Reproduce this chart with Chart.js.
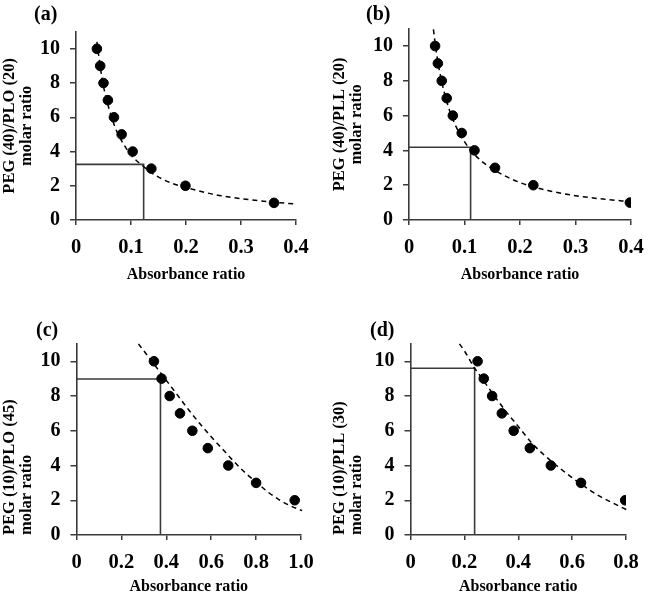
<!DOCTYPE html>
<html><head><meta charset="utf-8">
<script src="https://cdn.jsdelivr.net/npm/chart.js@4.4.1/dist/chart.umd.min.js"></script>
<style>
html,body{margin:0;padding:0;background:#fff;}
#wrap{position:relative;width:657px;height:601px;overflow:hidden;}
canvas{position:absolute;}
</style></head><body><div id="wrap">
<canvas id="ca" width="330" height="300" style="left:0;top:0"></canvas>
<canvas id="cb" width="327" height="300" style="left:330px;top:0"></canvas>
<canvas id="cc" width="330" height="301" style="left:0;top:300px"></canvas>
<canvas id="cd" width="327" height="301" style="left:330px;top:300px"></canvas>
</div>
<script>
// ---- data ----
const molarRatio = [10, 9, 8, 7, 6, 5, 4, 3, 2, 1];
const aAbs = [0.038, 0.044, 0.050, 0.058, 0.069, 0.083, 0.103, 0.137, 0.199, 0.360];
const bAbs = [0.047, 0.052, 0.059, 0.068, 0.079, 0.095, 0.118, 0.155, 0.224, 0.398];
const cdRatio = [10, 9, 8, 7, 6, 5, 4, 3, 2];
const cAbs = [0.345, 0.379, 0.415, 0.461, 0.516, 0.585, 0.676, 0.800, 0.972];
const dAbs = [0.249, 0.272, 0.303, 0.339, 0.383, 0.443, 0.521, 0.633, 0.797];

// fitted (dashed) curves
const aFitX = [0.038, 0.045, 0.05, 0.06, 0.07, 0.08, 0.1, 0.12, 0.14, 0.17, 0.2, 0.25, 0.3, 0.35, 0.4];
const aFitY = [10.4, 8.75, 7.8, 6.5, 5.5, 4.8, 3.8, 3.2, 2.7, 2.2, 1.9, 1.5, 1.25, 1.07, 0.93];
const bFitX = [0.044, 0.05, 0.06, 0.07, 0.08, 0.1, 0.12, 0.15, 0.2, 0.25, 0.3, 0.35, 0.4];
const bFitY = [10.95, 9.5, 7.8, 6.6, 5.7, 4.5, 3.7, 2.95, 2.15, 1.7, 1.4, 1.2, 1.05];
const cFitX = [0.276, 0.3, 0.35, 0.4, 0.45, 0.5, 0.55, 0.6, 0.65, 0.7, 0.75, 0.8, 0.85, 0.9, 0.95, 1.005];
const cFitY = [11.0, 10.6, 9.75, 8.9, 8.05, 7.2, 6.4, 5.65, 4.95, 4.25, 3.6, 3.05, 2.5, 2.05, 1.7, 1.4];
const dFitX = [0.182, 0.2, 0.238, 0.25, 0.3, 0.35, 0.4, 0.45, 0.5, 0.55, 0.6, 0.65, 0.7, 0.75, 0.81];
const dFitY = [11.0, 10.6, 9.6, 9.35, 8.25, 7.2, 6.25, 5.3, 4.55, 3.9, 3.3, 2.75, 2.25, 1.85, 1.4];

// read-off guide lines (absorbance, molar ratio)
const aGuide = [0.123, 3.25];
const bGuide = [0.111, 4.18];
const cGuide = [0.374, 8.98];
const dGuide = [0.238, 9.6];

const panelLabels = ['(a)', '(b)', '(c)', '(d)'];
const yTitles = [
  ['PEG (40)/PLO (20)', 'molar ratio'],
  ['PEG (40)/PLL (20)', 'molar ratio'],
  ['PEG (10)/PLO (45)', 'molar ratio'],
  ['PEG (10)/PLL (30)', 'molar ratio']
];
const xTitle = 'Absorbance ratio';
const xMaxes = [0.4, 0.4, 1.0, 0.8];
const xSteps = [0.1, 0.1, 0.2, 0.2];
const yMax = 11;
const yTicks = [0, 2, 4, 6, 8, 10];

// ---- drawing ----
Chart.defaults.font.family = '"Liberation Serif", "Times New Roman", serif';
Chart.defaults.color = '#000';

const panelLabel = {
  id: 'panelLabel',
  afterDraw(chart, args, o) {
    const c = chart.ctx;
    c.save();
    c.font = 'bold 20px "Liberation Serif", serif';
    c.fillStyle = '#000';
    c.textBaseline = 'middle';
    c.textAlign = 'left';
    c.fillText(o.text, o.x, o.y);
    c.restore();
  }
};

const axisColor = '#3a3a3a';

function pts(xs, ys) { return xs.map((x, i) => ({x: x, y: ys[i]})); }

function makePanel(id, idx, xs, ys, fx, fy, guide, lay) {
  const W = lay.W, H = lay.H;
  new Chart(document.getElementById(id), {
    type: 'scatter',
    data: {
      datasets: [
        {
          type: 'line', data: pts(fx, fy), borderColor: '#000', borderWidth: 1.5,
          borderDash: [5, 4], pointRadius: 0, cubicInterpolationMode: 'monotone', clip: false, order: 2
        },
        {
          type: 'line', data: [{x: 0, y: guide[1]}, {x: guide[0], y: guide[1]}, {x: guide[0], y: 0}],
          borderColor: axisColor, borderWidth: 1.6, pointRadius: 0, tension: 0, order: 3
        },
        {
          type: 'scatter', data: pts(xs, ys), backgroundColor: '#000', borderColor: '#000',
          pointRadius: 4.8, pointHoverRadius: 4.8, order: 1
        }
      ]
    },
    options: {
      responsive: false, animation: false, devicePixelRatio: 1,
      layout: {padding: {left: 0, top: lay.top, right: W - lay.right, bottom: 0}},
      plugins: {
        legend: {display: false}, tooltip: {enabled: false},
        panelLabel: {text: panelLabels[idx], x: lay.lx, y: lay.ly}
      },
      scales: {
        x: {
          type: 'linear', min: 0, max: xMaxes[idx],
          ticks: {
            stepSize: xSteps[idx], padding: lay.xtp, color: '#000',
            font: {size: 20.5, weight: 'bold'},
            maxRotation: 0, autoSkip: false,
            callback: v => (v === 0 ? '0' : Number(v).toFixed(1))
          },
          grid: {drawOnChartArea: false, drawTicks: true, tickLength: 5, color: axisColor, lineWidth: 1.5},
          border: {display: true, color: axisColor, width: 1.6},
          title: {display: true, text: xTitle, color: '#000', font: {size: 16, weight: 'bold'},
                  padding: {top: 0, bottom: lay.xtb}},
          afterFit: s => { s.height = H - lay.bottom; }
        },
        y: {
          type: 'linear', min: 0, max: yMax,
          afterBuildTicks: s => { s.ticks = yTicks.map(v => ({value: v})); },
          ticks: {padding: 10, color: '#000', font: {size: 20, weight: 'bold'}},
          grid: {drawOnChartArea: false, drawTicks: true, tickLength: 6, color: axisColor, lineWidth: 1.5},
          border: {display: true, color: axisColor, width: 1.6},
          title: {display: true, text: yTitles[idx], color: '#000', align: lay.ya,
                  font: {size: 16.5, weight: 'bold', lineHeight: 1.05}, padding: {top: 1, bottom: 0}},
          afterFit: s => { s.width = lay.left; }
        }
      }
    },
    plugins: [panelLabel]
  });
}

makePanel('ca', 0, aAbs, molarRatio, aFitX, aFitY, aGuide,
  {W: 330, H: 300, left: 76, right: 296, top: 31.7, bottom: 220, lx: 34, ly: 15, xtp: 10, xtb: 16, ya: 'center'});
makePanel('cb', 1, bAbs, molarRatio, bFitX, bFitY, bGuide,
  {W: 327, H: 300, left: 79, right: 301, top: 28.6, bottom: 220, lx: 36, ly: 15, xtp: 10, xtb: 16, ya: 'center'});
makePanel('cc', 2, cAbs, cdRatio, cFitX, cFitY, cGuide,
  {W: 330, H: 301, left: 76.5, right: 301, top: 43.9, bottom: 235, lx: 36, ly: 31, xtp: 10, xtb: 5, ya: 'start'});
makePanel('cd', 3, dAbs, cdRatio, dFitX, dFitY, dGuide,
  {W: 327, H: 301, left: 80.5, right: 296, top: 43.9, bottom: 235, lx: 40, ly: 31, xtp: 10, xtb: 5, ya: 'start'});
</script>
</body></html>
